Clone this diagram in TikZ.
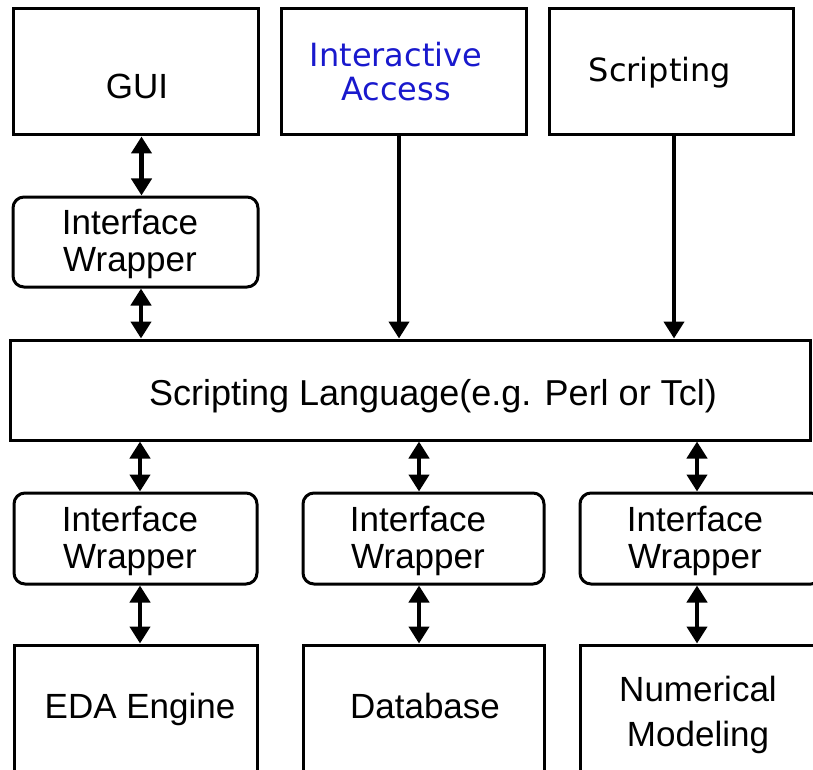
\documentclass[tikz,border=0pt]{standalone}
\usepackage{fontspec}
\setmainfont{Liberation Sans}
\newfontfamily\verdfont{DejaVu Sans}
\usetikzlibrary{
  arrows.meta,
  positioning
}
\definecolor{iablue}{RGB}{25,25,205}
\tikzset{
  blk/.style={draw,line width=3pt,inner sep=0pt,minimum width=245pt,minimum height=126pt},
  wrap/.style={blk,rounded corners=11pt,minimum height=91pt},
  lbl/.style={font=\fontsize{35}{37}\selectfont,inner sep=0pt,align=center},
  vlbl/.style={font=\verdfont\fontsize{32}{34}\selectfont,inner sep=0pt,align=center},
  link/.style={line width=4.5pt,-{Triangle[width=20pt,length=17pt]}},
  dlink/.style={line width=4.5pt,{Triangle[width=20pt,length=17pt]}-{Triangle[width=20pt,length=17pt]}}
}

\begin{document}
\begin{tikzpicture}[x=1pt,y=-1pt]

  \useasboundingbox (0,0) rectangle (813,770);

  % access layer
  \node[blk] (gui) at (135.5,72) {};
  \node[lbl,anchor=base] (guitxt) at (137,99) {GUI};
  \node[blk] (ia) at (403.5,72) {};
  \node[vlbl,text=iablue] (iatxt) at (396,72) {Interactive\\Access};
  \node[blk,minimum width=244pt] (scr) at (671,72) {};
  \node[vlbl,anchor=base] (scrtxt) at (660,82) {Scripting};

  \node[wrap,minimum height=90pt] (gw) at (135.5,242) {};
  \node[lbl] (gwtxt) at (130,243.5) {Interface\\Wrapper};

  % scripting layer
  \node[blk,minimum width=800pt,minimum height=100pt] (lang) at (410,390) {};
  \node[lbl,anchor=base,font=\fontsize{36}{38}\selectfont] (langtxt) at (433,405) {Scripting Language(e.g. Perl or Tcl)};

  % wrappers and tools
  \node[wrap,minimum width=243pt] (w1) at (135.5,538.5) {};
  \node[lbl] (w1txt) at (130,540.5) {Interface\\Wrapper};
  \node[wrap,minimum width=241pt] (w2) at (423.5,538.5) {};
  \node[lbl] (w2txt) at (418,540.5) {Interface\\Wrapper};
  \node[wrap,minimum width=242pt] (w3) at (701,538.5) {};
  \node[lbl] (w3txt) at (695,540.5) {Interface\\Wrapper};

  \node[blk,minimum width=243pt,minimum height=145pt] (eda) at (135.5,717.5) {};
  \node[lbl,anchor=base] (edatxt) at (140,718) {EDA Engine};
  \node[blk,minimum width=241pt,minimum height=145pt] (db) at (423.5,717.5) {};
  \node[lbl,anchor=base] (dbtxt) at (425,718) {Database};
  \node[blk,minimum width=242pt,minimum height=145pt] (num) at (701,717.5) {};
  \node[lbl] (numtxt) at (698,714.5) {Numerical\\[8pt]Modeling};

  % connectors
  \draw[dlink] ([xshift=6pt]gui.south) -- ([xshift=6pt]gw.north);
  \draw[dlink] ([xshift=5.5pt]gw.south) -- ([xshift=5.5pt]lang.north -| gw.south);
  \draw[link] ([xshift=-4.5pt]ia.south) -- ([xshift=-4.5pt]lang.north -| ia.south);
  \draw[link] ([xshift=3pt]scr.south) -- ([xshift=3pt]lang.north -| scr.south);

  \draw[dlink] ([xshift=4.5pt]lang.south -| w1.north) -- ([xshift=4.5pt]w1.north);
  \draw[dlink] ([xshift=-4.5pt]lang.south -| w2.north) -- ([xshift=-4.5pt]w2.north);
  \draw[dlink] ([xshift=-4pt]lang.south -| w3.north) -- ([xshift=-4pt]w3.north);

  \draw[dlink] ([xshift=4.5pt]w1.south) -- ([xshift=4.5pt]eda.north);
  \draw[dlink] ([xshift=-4.5pt]w2.south) -- ([xshift=-4.5pt]db.north);
  \draw[dlink] ([xshift=-4pt]w3.south) -- ([xshift=-4pt]num.north);

\end{tikzpicture}
\end{document}
